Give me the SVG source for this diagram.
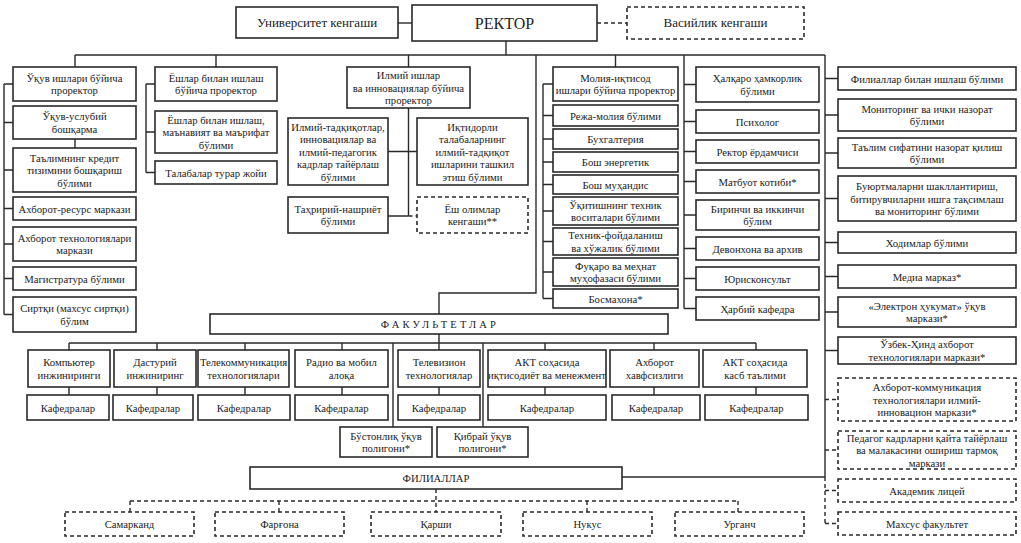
<svg xmlns="http://www.w3.org/2000/svg" width="1021" height="543" viewBox="0 0 1021 543">
<style>
.b{fill:#fff;stroke:#2a2a2a;stroke-width:1.6}
.d{fill:#fff;stroke:#2a2a2a;stroke-width:1.6;stroke-dasharray:4 3}
text{font-family:"Liberation Serif","Times New Roman",serif;font-size:10.7px;fill:#222;text-anchor:middle}
.c path{fill:none;stroke:#2a2a2a;stroke-width:1.4}
.c path.cd{stroke-dasharray:4 3}
.t13{font-size:13px}
.t16{font-size:16px}
.sp{font-size:10.5px;letter-spacing:3.2px}
</style>
<rect width="1021" height="543" fill="#fff"/>
<g class="c" id="connectors">
<path d="M398 23H412"/>
<path class="cd" d="M597 23H627"/>
<path d="M506 41V55M75 55H825M75 55V67M216 55V67M408.5 55V67M615.5 55V67M536 55V293H439V314"/>
<path d="M4 84V314.5M4 84H13M4 122.5H13M4 170H13M4 208.5H13M4 244H13M4 278.5H13M4 314.5H13M75 139V148"/>
<path d="M146 84V172.5M146 84H155M146 132H155M146 172.5H155"/>
<path d="M408.5 108V216M388 151.5H417M388 216H408.5"/>
<path class="cd" d="M408.5 216H417"/>
<path d="M543 84V298.5M543 84H553M543 115.5H553M543 139H553M543 162H553M543 184.5H553M543 211H553M543 241.5H553M543 272H553M543 298.5H553"/>
<path d="M684 55V308.5M684 84.5H696M684 121.5H696M684 151.5H696M684 181.5H696M684 215H696M684 248.5H696M684 278.5H696M684 308.5H696"/>
<path d="M825 55V477M825 78.5H838M825 115H838M825 153H838M825 198.5H838M825 242.5H838M825 276.5H838M825 312H838M825 350.5H838"/>
<path class="cd" d="M825 477V523.5M825 399.5H838M825 450H838M825 490.5H838M825 523.5H838"/>
<path d="M439 334V350M69 343H756M69 343V350M157 343V350M245 343V350M342 343V350M545 343V350M654 343V350M756 343V350M393 343V427M483 343V427"/>
<path d="M69 387V395M157 387V395M245 387V395M342 387V395M439 387V395M545 387V395M654 387V395M756 387V395"/>
<path d="M622 477H825"/>
<path class="cd" d="M436 489V512M130 501H738M130 501V512M279 501V512M587 501V512M738 501V512"/>
</g>
<g id="universitet"><rect class="b" x="236" y="7" width="162" height="31"/><text class="t13" x="317" y="27">Университет кенгаши</text></g>
<g id="rektor"><rect class="b" x="412" y="5" width="185" height="36"/><text class="t16" x="504.5" y="29">РЕКТОР</text></g>
<g id="vasiylik"><rect class="d" x="627" y="7" width="177" height="32"/><text class="t13" x="715.5" y="27">Васийлик кенгаши</text></g>

<g id="n-ukuv-prorektor"><rect class="b" x="13" y="67" width="123" height="34"/><text><tspan x="74.5" y="81.75">Ўқув ишлари бўйича</tspan><tspan x="74.5" y="94.25">проректор</tspan></text></g>
<g id="n-ukuv-uslubiy"><rect class="b" x="13" y="106" width="123" height="33"/><text><tspan x="74.5" y="120.25">Ўқув-услубий</tspan><tspan x="74.5" y="132.75">бошқарма</tspan></text></g>
<g id="n-kredit"><rect class="b" x="13" y="148" width="123" height="44"/><text><tspan x="74.5" y="161.5">Таълимнинг кредит</tspan><tspan x="74.5" y="174">тизимини бошқариш</tspan><tspan x="74.5" y="186.5">бўлими</tspan></text></g>
<g id="n-axborot-resurs"><rect class="b" x="13" y="197" width="123" height="23"/><text x="74.5" y="212.5">Ахборот-ресурс маркази</text></g>
<g id="n-axborot-tex"><rect class="b" x="13" y="227" width="123" height="34"/><text><tspan x="74.5" y="241.75">Ахборот технологиялари</tspan><tspan x="74.5" y="254.25">маркази</tspan></text></g>
<g id="n-magistratura"><rect class="b" x="13" y="267" width="123" height="23"/><text x="74.5" y="282.5">Магистратура бўлими</text></g>
<g id="n-sirtqi"><rect class="b" x="13" y="297" width="123" height="35"/><text><tspan x="74.5" y="312.25">Сиртқи (махсус сиртқи)</tspan><tspan x="74.5" y="324.75">бўлим</tspan></text></g>

<g id="n-yoshlar-prorektor"><rect class="b" x="155" y="67" width="122" height="34"/><text><tspan x="216" y="81.75">Ёшлар билан ишлаш</tspan><tspan x="216" y="94.25">бўйича проректор</tspan></text></g>
<g id="n-manaviyat"><rect class="b" x="155" y="111" width="122" height="42"/><text><tspan x="216" y="123.5">Ёшлар билан ишлаш,</tspan><tspan x="216" y="136">маънавият ва маърифат</tspan><tspan x="216" y="148.5">бўлими</tspan></text></g>
<g id="n-turar-joy"><rect class="b" x="155" y="161" width="122" height="23"/><text x="216" y="176.5">Талабалар турар жойи</text></g>

<g id="n-ilmiy-prorektor"><rect class="b" x="347" y="67" width="123" height="41"/><text><tspan x="408.5" y="79">Илмий ишлар</tspan><tspan x="408.5" y="91.5">ва инновациялар бўйича</tspan><tspan x="408.5" y="104">проректор</tspan></text></g>
<g id="n-ilmiy-tadqiqot"><rect class="b" x="288" y="118" width="100" height="67"/><text><tspan x="338" y="130.5">Илмий-тадқиқотлар,</tspan><tspan x="338" y="143">инновациялар ва</tspan><tspan x="338" y="155.5">илмий-педагогик</tspan><tspan x="338" y="168">кадрлар тайёрлаш</tspan><tspan x="338" y="180.5">бўлими</tspan></text></g>
<g id="n-iqtidorli"><rect class="b" x="417" y="118" width="111" height="67"/><text><tspan x="472.5" y="130.5">Иқтидорли</tspan><tspan x="472.5" y="143">талабаларнинг</tspan><tspan x="472.5" y="155.5">илмий-тадқиқот</tspan><tspan x="472.5" y="168">ишларини ташкил</tspan><tspan x="472.5" y="180.5">этиш бўлими</tspan></text></g>
<g id="n-tahririy"><rect class="b" x="288" y="197" width="100" height="36"/><text><tspan x="338" y="212.75">Таҳририй-нашриёт</tspan><tspan x="338" y="225.25">бўлими</tspan></text></g>
<g id="n-yosh-olimlar"><rect class="d" x="417" y="197" width="111" height="36"/><text><tspan x="472.5" y="212.75">Ёш олимлар</tspan><tspan x="472.5" y="225.25">кенгаши**</tspan></text></g>

<g id="n-moliya-prorektor"><rect class="b" x="553" y="67" width="125" height="34"/><text><tspan x="615.5" y="81.75">Молия-иқтисод</tspan><tspan x="615.5" y="94.25">ишлари бўйича проректор</tspan></text></g>
<g id="n-reja"><rect class="b" x="553" y="105" width="125" height="21"/><text x="615.5" y="119.5">Режа-молия бўлими</text></g>
<g id="n-buxgalteriya"><rect class="b" x="553" y="129" width="125" height="20"/><text x="615.5" y="143">Бухгалтерия</text></g>
<g id="n-energetik"><rect class="b" x="553" y="152" width="125" height="20"/><text x="615.5" y="166">Бош энергетик</text></g>
<g id="n-muhandis"><rect class="b" x="553" y="175" width="125" height="19"/><text x="615.5" y="188.5">Бош муҳандис</text></g>
<g id="n-texnik-vosita"><rect class="b" x="553" y="197" width="125" height="28"/><text><tspan x="615.5" y="208.75">Ўқитишнинг техник</tspan><tspan x="615.5" y="221.25">воситалари бўлими</tspan></text></g>
<g id="n-xojalik"><rect class="b" x="553" y="228" width="125" height="27"/><text><tspan x="615.5" y="239.25">Техник-фойдаланиш</tspan><tspan x="615.5" y="251.75">ва хўжалик бўлими</tspan></text></g>
<g id="n-fuqaro"><rect class="b" x="553" y="258" width="125" height="28"/><text><tspan x="615.5" y="269.75">Фуқаро ва меҳнат</tspan><tspan x="615.5" y="282.25">муҳофазаси бўлими</tspan></text></g>
<g id="n-bosmaxona"><rect class="b" x="553" y="289" width="125" height="19"/><text x="615.5" y="302.5">Босмахона*</text></g>

<g id="n-xalqaro"><rect class="b" x="696" y="67" width="123" height="35"/><text><tspan x="757.5" y="82.25">Ҳалқаро ҳамкорлик</tspan><tspan x="757.5" y="94.75">бўлими</tspan></text></g>
<g id="n-psixolog"><rect class="b" x="696" y="110" width="123" height="23"/><text x="757.5" y="125.5">Психолог</text></g>
<g id="n-rektor-yordamchisi"><rect class="b" x="696" y="140" width="123" height="23"/><text x="757.5" y="155.5">Ректор ёрдамчиси</text></g>
<g id="n-matbuot"><rect class="b" x="696" y="170" width="123" height="23"/><text x="757.5" y="185.5">Матбуот котиби*</text></g>
<g id="n-birinchi"><rect class="b" x="696" y="200" width="123" height="30"/><text><tspan x="757.5" y="212.75">Биринчи ва иккинчи</tspan><tspan x="757.5" y="225.25">бўлим</tspan></text></g>
<g id="n-devonxona"><rect class="b" x="696" y="237" width="123" height="23"/><text x="757.5" y="252.5">Девонхона ва архив</text></g>
<g id="n-yuriskonsult"><rect class="b" x="696" y="267" width="123" height="23"/><text x="757.5" y="282.5">Юрисконсульт</text></g>
<g id="n-harbiy"><rect class="b" x="696" y="297" width="123" height="23"/><text x="757.5" y="312.5">Ҳарбий кафедра</text></g>

<g id="n-filiallar-bolimi"><rect class="b" x="838" y="67" width="178" height="23"/><text x="927" y="82.5">Филиаллар билан ишлаш бўлими</text></g>
<g id="n-monitoring"><rect class="b" x="838" y="99" width="178" height="32"/><text><tspan x="927" y="112.75">Мониторинг ва ички назорат</tspan><tspan x="927" y="125.25">бўлими</tspan></text></g>
<g id="n-sifat"><rect class="b" x="838" y="138" width="178" height="30"/><text><tspan x="927" y="150.75">Таълим сифатини назорат қилиш</tspan><tspan x="927" y="163.25">бўлими</tspan></text></g>
<g id="n-buyurtma"><rect class="b" x="838" y="176" width="178" height="45"/><text><tspan x="927" y="190">Буюртмаларни шакллантириш,</tspan><tspan x="927" y="202.5">битирувчиларни ишга тақсимлаш</tspan><tspan x="927" y="215">ва мониторинг бўлими</tspan></text></g>
<g id="n-xodimlar"><rect class="b" x="838" y="232" width="178" height="21"/><text x="927" y="246.5">Ходимлар бўлими</text></g>
<g id="n-media"><rect class="b" x="838" y="265" width="178" height="23"/><text x="927" y="280.5">Медиа марказ*</text></g>
<g id="n-elektron"><rect class="b" x="838" y="297" width="178" height="30"/><text><tspan x="927" y="309.75">«Электрон ҳукумат» ўқув</tspan><tspan x="927" y="322.25">маркази*</tspan></text></g>
<g id="n-uzbek-hind"><rect class="b" x="838" y="337" width="178" height="27"/><text><tspan x="927" y="348.25">Ўзбек-Ҳинд ахборот</tspan><tspan x="927" y="360.75">технологиялари маркази*</tspan></text></g>
<g id="n-akt-markaz"><rect class="d" x="838" y="378" width="178" height="43"/><text><tspan x="927" y="391">Ахборот-коммуникация</tspan><tspan x="927" y="403.5">технологиялари илмий-</tspan><tspan x="927" y="416">инновацион маркази*</tspan></text></g>
<g id="n-pedagog"><rect class="d" x="838" y="431" width="178" height="38"/><text><tspan x="927" y="441.5">Педагог кадрларни қайта тайёрлаш</tspan><tspan x="927" y="454">ва малакасини ошириш тармоқ</tspan><tspan x="927" y="466.5">маркази</tspan></text></g>
<g id="n-litsey"><rect class="d" x="838" y="479" width="178" height="23"/><text x="927" y="494.5">Академик лицей</text></g>
<g id="n-maxsus"><rect class="d" x="838" y="512" width="178" height="23"/><text x="927" y="527.5">Махсус факультет</text></g>

<g id="n-fakultetlar"><rect class="b" x="210" y="314" width="458" height="20"/><text class="sp" x="440" y="328">ФАКУЛЬТЕТЛАР</text></g>

<g id="f-kompyuter"><rect class="b" x="28" y="350" width="82" height="37"/><text><tspan x="69" y="366.25">Компьютер</tspan><tspan x="69" y="378.75">инжиниринги</tspan></text></g>
<g id="f-dasturiy"><rect class="b" x="114" y="350" width="82" height="37"/><text><tspan x="155" y="366.25">Дастурий</tspan><tspan x="155" y="378.75">инжиниринг</tspan></text></g>
<g id="f-telekom"><rect class="b" x="198" y="350" width="91" height="37"/><text><tspan x="243.5" y="366.25">Телекоммуникация</tspan><tspan x="243.5" y="378.75">технологиялари</tspan></text></g>
<g id="f-radio"><rect class="b" x="295" y="350" width="93" height="37"/><text><tspan x="341.5" y="366.25">Радио ва мобил</tspan><tspan x="341.5" y="378.75">алоқа</tspan></text></g>
<g id="f-televizion"><rect class="b" x="398" y="350" width="82" height="37"/><text><tspan x="439" y="366.25">Телевизион</tspan><tspan x="439" y="378.75">технологиялар</tspan></text></g>
<g id="f-akt-iqtisod"><rect class="b" x="488" y="350" width="118" height="37"/><text><tspan x="547" y="366.25">АКТ соҳасида</tspan><tspan x="547" y="378.75">иқтисодиёт ва менежмент</tspan></text></g>
<g id="f-xavfsizlik"><rect class="b" x="610" y="350" width="89" height="37"/><text><tspan x="654.5" y="366.25">Ахборот</tspan><tspan x="654.5" y="378.75">хавфсизлиги</tspan></text></g>
<g id="f-kasb"><rect class="b" x="703" y="350" width="104" height="37"/><text><tspan x="755" y="366.25">АКТ соҳасида</tspan><tspan x="755" y="378.75">касб таълими</tspan></text></g>

<g id="k1"><rect class="b" x="27" y="395" width="82" height="25"/><text x="68" y="411.5">Кафедралар</text></g>
<g id="k2"><rect class="b" x="113" y="395" width="80" height="25"/><text x="153" y="411.5">Кафедралар</text></g>
<g id="k3"><rect class="b" x="198" y="395" width="92" height="25"/><text x="244" y="411.5">Кафедралар</text></g>
<g id="k4"><rect class="b" x="295" y="395" width="93" height="25"/><text x="341.5" y="411.5">Кафедралар</text></g>
<g id="k5"><rect class="b" x="398" y="395" width="82" height="25"/><text x="439" y="411.5">Кафедралар</text></g>
<g id="k6"><rect class="b" x="488" y="395" width="118" height="25"/><text x="547" y="411.5">Кафедралар</text></g>
<g id="k7"><rect class="b" x="612" y="395" width="88" height="25"/><text x="656" y="411.5">Кафедралар</text></g>
<g id="k8"><rect class="b" x="705" y="395" width="103" height="25"/><text x="756.5" y="411.5">Кафедралар</text></g>

<g id="p-bostonliq"><rect class="b" x="340" y="427" width="92" height="30"/><text><tspan x="386" y="439.75">Бўстонлиқ ўқув</tspan><tspan x="386" y="452.25">полигони*</tspan></text></g>
<g id="p-qibray"><rect class="b" x="437" y="427" width="91" height="30"/><text><tspan x="482.5" y="439.75">Қибрай ўқув</tspan><tspan x="482.5" y="452.25">полигони*</tspan></text></g>

<g id="n-filiallar"><rect class="b" x="250" y="467" width="372" height="22"/><text x="436" y="482">ФИЛИАЛЛАР</text></g>

<g id="b-samarqand"><rect class="d" x="65" y="512" width="129" height="24"/><text x="129.5" y="528">Самарканд</text></g>
<g id="b-fargona"><rect class="d" x="215" y="512" width="129" height="24"/><text x="279.5" y="528">Фарғона</text></g>
<g id="b-qarshi"><rect class="d" x="371" y="512" width="130" height="24"/><text x="436" y="528">Қарши</text></g>
<g id="b-nukus"><rect class="d" x="523" y="512" width="129" height="24"/><text x="587.5" y="528">Нукус</text></g>
<g id="b-urganch"><rect class="d" x="675" y="512" width="129" height="24"/><text x="739.5" y="528">Урганч</text></g>
</svg>
